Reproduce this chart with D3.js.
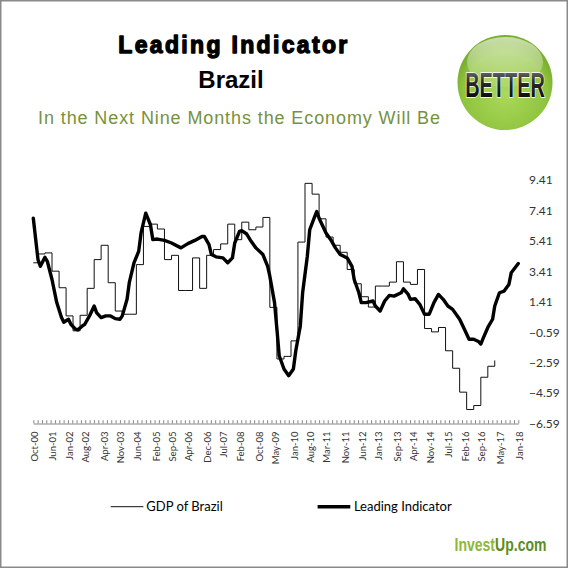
<!DOCTYPE html>
<html>
<head>
<meta charset="utf-8">
<script src="https://cdn.jsdelivr.net/npm/d3@7"></script>
<style>
  body { margin: 0; background: #fff; }
  svg { display: block; }
</style>
</head>
<body>
<div id="chart"></div>
<script>
// GDP of Brazil, quarterly (value holds until the next date)
const gdpDates = [
  "2000-10", "2000-12", "2001-03", "2001-06", "2001-09", "2001-12", "2002-03", "2002-06",
  "2002-09", "2002-12", "2003-03", "2003-06", "2003-09", "2003-12", "2004-03", "2004-06",
  "2004-09", "2004-12", "2005-03", "2005-06", "2005-09", "2005-12", "2006-03", "2006-06",
  "2006-09", "2006-12", "2007-03", "2007-06", "2007-09", "2007-12", "2008-03", "2008-06",
  "2008-09", "2008-12", "2009-03", "2009-06", "2009-09", "2009-12", "2010-03", "2010-06",
  "2010-09", "2010-12", "2011-03", "2011-06", "2011-09", "2011-12", "2012-03", "2012-06",
  "2012-09", "2012-12", "2013-03", "2013-06", "2013-09", "2013-12", "2014-03", "2014-06",
  "2014-09", "2014-12", "2015-03", "2015-06", "2015-09", "2015-12", "2016-03", "2016-06",
  "2016-09", "2016-12", "2017-03"
];
const gdpValues = [
  3.97, 4.55, 4.62, 3.42, 2.33, 0.48, -0.50, 0.52,
  2.29, 4.18, 5.12, 2.66, 0.80, 0.59, 0.59, 3.85,
  6.36, 6.51, 6.19, 4.18, 4.46, 2.15, 2.15, 4.29,
  2.29, 4.46, 4.84, 5.21, 6.51, 5.49, 6.64, 6.14,
  6.32, 6.95, 1.04, -2.35, -2.18, -1.16, 5.33, 9.19,
  8.48, 6.86, 5.66, 5.12, 4.66, 3.53, 2.59, 1.74,
  1.06, 2.44, 2.44, 2.70, 4.04, 2.70, 2.55, 3.53,
  -0.35, -0.57, -0.28, -1.81, -2.96, -4.53, -5.67, -5.41,
  -3.55, -2.83, -2.45
];

// Leading indicator
const liDates = [
  "2000-10", "2000-12", "2001-01", "2001-03", "2001-04", "2001-06", "2001-08", "2001-10",
  "2001-11", "2002-01", "2002-02", "2002-04", "2002-05", "2002-07", "2002-08", "2002-10",
  "2002-12", "2003-01", "2003-03", "2003-05", "2003-07", "2003-09", "2003-11", "2003-12",
  "2004-02", "2004-03", "2004-05", "2004-07", "2004-08", "2004-10", "2004-12", "2005-01",
  "2005-03", "2005-06", "2005-09", "2006-01", "2006-04", "2006-07", "2006-10", "2006-11",
  "2007-01", "2007-02", "2007-04", "2007-07", "2007-09", "2007-11", "2007-12", "2008-02",
  "2008-03", "2008-05", "2008-07", "2008-09", "2008-12", "2009-02", "2009-03", "2009-05",
  "2009-06", "2009-07", "2009-09", "2009-11", "2010-01", "2010-02", "2010-04", "2010-05",
  "2010-07", "2010-08", "2010-10", "2010-11", "2010-12", "2011-03", "2011-05", "2011-07",
  "2011-09", "2011-12", "2012-02", "2012-03", "2012-05", "2012-06", "2012-08", "2012-11",
  "2012-12", "2013-02", "2013-04", "2013-06", "2013-08", "2013-11", "2013-12", "2014-02",
  "2014-03", "2014-05", "2014-07", "2014-09", "2014-11", "2015-01", "2015-03", "2015-05",
  "2015-07", "2015-09", "2015-12", "2016-02", "2016-04", "2016-06", "2016-08", "2016-09",
  "2016-10", "2016-12", "2017-02", "2017-03", "2017-05", "2017-07", "2017-09", "2017-10",
  "2018-01"
];
const liValues = [
  6.90, 4.18, 3.74, 4.33, 4.07, 2.87, 1.37, 0.39,
  0.06, 0.26, -0.07, -0.39, -0.44, -0.18, -0.07, 0.48,
  1.13, 0.70, 0.37, 0.48, 0.48, 0.30, 0.26, 0.48,
  1.57, 2.66, 3.97, 4.72, 5.93, 7.23, 6.47, 5.49,
  5.53, 5.44, 5.27, 4.95, 5.23, 5.44, 5.70, 5.70,
  5.16, 4.51, 4.36, 4.29, 3.97, 4.29, 5.27, 6.03,
  6.08, 5.88, 5.38, 4.95, 4.51, 3.74, 3.09, 1.35,
  -0.39, -2.14, -3.01, -3.45, -3.01, -1.81, -0.18, 2.00,
  4.40, 6.14, 6.95, 7.34, 6.90, 5.93, 5.49, 4.95,
  4.51, 4.29, 3.74, 2.87, 2.00, 1.35, 1.35, 1.46,
  1.13, 0.80, 1.46, 1.83, 1.78, 2.00, 2.26, 1.89,
  1.57, 1.61, 1.24, 0.59, 0.59, 1.35, 1.89, 1.57,
  1.13, 0.91, 0.26, -0.39, -1.05, -1.05, -1.20, -1.37,
  -1.00, -0.28, 0.26, 1.13, 2.00, 2.11, 2.55, 3.31,
  3.92
];

const xTickLabels = [
  "Oct-00", "Jun-01", "Jan-02", "Aug-02", "Apr-03", "Nov-03", "Jun-04", "Feb-05",
  "Sep-05", "Apr-06", "Dec-06", "Jul-07", "Feb-08", "Oct-08", "May-09", "Jan-10",
  "Aug-10", "Mar-11", "Nov-11", "Jun-12", "Jan-13", "Sep-13", "Apr-14", "Nov-14",
  "Jul-15", "Feb-16", "Sep-16", "May-17", "Jan-18"
];
const yTicks = [9.41, 7.41, 5.41, 3.41, 1.41, -0.59, -2.59, -4.59, -6.59];

const parseMonth = d3.timeParse("%Y-%m");
const parseLabel = d3.timeParse("%b-%y");

const gdp = gdpDates.map((d, i) => ({ date: parseMonth(d), value: gdpValues[i] }));
const li = liDates.map((d, i) => ({ date: parseMonth(d), value: liValues[i] }));
const labelDates = xTickLabels.map(parseLabel);

const width = 569;
const height = 569;

const svg = d3.select("#chart")
  .append("svg")
  .attr("width", width)
  .attr("height", height)
  .attr("viewBox", [0, 0, width, height]);

svg.append("rect")
  .attr("x", 0.75).attr("y", 0.75)
  .attr("width", width - 2.5).attr("height", height - 2.5)
  .attr("fill", "#fff")
  .attr("stroke", "#8a8a8a")
  .attr("stroke-width", 1.5);

// titles
svg.append("text")
  .attr("x", 232.8).attr("y", 53.3)
  .attr("text-anchor", "middle")
  .attr("font-family", "Liberation Sans, Arial, sans-serif")
  .attr("font-weight", "bold")
  .attr("font-size", 23)
  .attr("textLength", 229)
  .attr("lengthAdjust", "spacing")
  .attr("stroke", "#000").attr("stroke-width", 1.3)
  .attr("stroke-linejoin", "round")
  .text("Leading Indicator");

svg.append("text")
  .attr("x", 231).attr("y", 88.3)
  .attr("text-anchor", "middle")
  .attr("font-family", "Liberation Sans, Arial, sans-serif")
  .attr("font-weight", "bold")
  .attr("font-size", 24)
  .text("Brazil");

svg.append("text")
  .attr("x", 239).attr("y", 124.3)
  .attr("text-anchor", "middle")
  .attr("font-family", "Liberation Sans, Arial, sans-serif")
  .attr("font-size", 18)
  .attr("fill", "#76923c")
  .attr("textLength", 402)
  .attr("lengthAdjust", "spacing")
  .text("In the Next Nine Months the Economy Will Be");

// BETTER badge
const defs = svg.append("defs");
const ball = defs.append("radialGradient").attr("id", "ball")
  .attr("cx", "50%").attr("cy", "62%").attr("r", "55%");
ball.append("stop").attr("offset", "0%").attr("stop-color", "#acd85a");
ball.append("stop").attr("offset", "80%").attr("stop-color", "#8fc43f");
ball.append("stop").attr("offset", "100%").attr("stop-color", "#7aae2e");

const gloss = defs.append("linearGradient").attr("id", "gloss")
  .attr("x1", 0).attr("y1", 0).attr("x2", 0).attr("y2", 1);
gloss.append("stop").attr("offset", "0%").attr("stop-color", "#fff").attr("stop-opacity", 0.6);
gloss.append("stop").attr("offset", "100%").attr("stop-color", "#fff").attr("stop-opacity", 0.08);

const ink = defs.append("linearGradient").attr("id", "ink")
  .attr("x1", 0).attr("y1", 0).attr("x2", 0).attr("y2", 1);
ink.append("stop").attr("offset", "0%").attr("stop-color", "#8c8c8c");
ink.append("stop").attr("offset", "45%").attr("stop-color", "#2a2a2a");
ink.append("stop").attr("offset", "100%").attr("stop-color", "#000");

const badge = svg.append("g");
badge.append("circle")
  .attr("cx", 505).attr("cy", 82.5).attr("r", 47.5)
  .attr("fill", "url(#ball)");
badge.append("ellipse")
  .attr("cx", 505).attr("cy", 62).attr("rx", 38).attr("ry", 25)
  .attr("fill", "url(#gloss)");
badge.append("text")
  .attr("transform", "translate(505,96.7) scale(0.57,1)")
  .attr("text-anchor", "middle")
  .attr("font-family", "Liberation Sans, Arial, sans-serif")
  .attr("font-weight", "bold")
  .attr("font-size", 35)
  .attr("fill", "url(#ink)")
  .attr("stroke", "#fff").attr("stroke-width", 1.6)
  .attr("paint-order", "stroke")
  .text("BETTER");

// scales
const x = d3.scaleTime()
  .domain([parseMonth("2000-10"), parseMonth("2018-01")])
  .range([33.3, 518.3]);

const y = d3.scaleLinear()
  .domain([-6.59, 9.41])
  .range([423.5, 180]);

// x axis: line, small inward ticks, rotated labels
const axisY = y(-6.59);

const tickIndex = d3.scaleLinear().domain([0, 112]).range(x.range());
svg.append("g")
  .attr("transform", `translate(0,${axisY})`)
  .call(d3.axisBottom(tickIndex).tickValues(d3.range(113)).tickSize(-3.3).tickSizeOuter(0).tickFormat(""))
  .call(g => g.select(".domain").attr("stroke", "#868686"))
  .call(g => g.selectAll(".tick line").attr("stroke", "#868686"));

svg.append("g")
  .attr("transform", `translate(0,${axisY})`)
  .call(d3.axisBottom(x).tickValues(labelDates).tickSize(0).tickFormat(d3.timeFormat("%b-%y")))
  .call(g => g.select(".domain").remove())
  .call(g => g.selectAll("text")
    .attr("transform", "rotate(-90)")
    .attr("text-anchor", "end")
    .attr("x", -8)
    .attr("y", 0)
    .attr("dy", "0.4em")
    .attr("fill", "#333")
    .attr("font-family", "Lato, sans-serif")
    .attr("font-size", 9.5));

// y axis on the right, labels only
svg.append("g")
  .attr("transform", "translate(529,0)")
  .call(d3.axisRight(y).tickValues(yTicks).tickSize(0).tickPadding(0).tickFormat(d3.format(".2f")))
  .call(g => g.select(".domain").remove())
  .call(g => g.selectAll("text")
    .attr("fill", "#333")
    .attr("font-family", "Lato, sans-serif")
    .attr("font-size", 12));

// series
const gdpLine = d3.line()
  .x(d => x(d.date))
  .y(d => y(d.value))
  .curve(d3.curveStepAfter);

const liLine = d3.line()
  .x(d => x(d.date))
  .y(d => y(d.value));

svg.append("path")
  .datum(gdp)
  .attr("fill", "none")
  .attr("stroke", "#111")
  .attr("stroke-width", 1)
  .attr("d", gdpLine);

svg.append("path")
  .datum(li)
  .attr("fill", "none")
  .attr("stroke", "#000")
  .attr("stroke-width", 3.4)
  .attr("stroke-linejoin", "round")
  .attr("stroke-linecap", "round")
  .attr("d", liLine);

// legend
const legend = svg.append("g")
  .attr("font-family", "Lato, sans-serif")
  .attr("font-size", 13);

legend.append("line")
  .attr("x1", 110.7).attr("x2", 143.4).attr("y1", 506.7).attr("y2", 506.7)
  .attr("stroke", "#111").attr("stroke-width", 1);
legend.append("text").attr("x", 146.3).attr("y", 511).text("GDP of Brazil");

legend.append("line")
  .attr("x1", 317.6).attr("x2", 350.3).attr("y1", 506.7).attr("y2", 506.7)
  .attr("stroke", "#000").attr("stroke-width", 3.4);
legend.append("text").attr("x", 353.9).attr("y", 511).text("Leading Indicator");

// footer
const brand = svg.append("text")
  .attr("transform", "translate(454.5,551) scale(0.78,1)")
  .attr("font-family", "Liberation Sans, Arial, sans-serif")
  .attr("font-weight", "bold")
  .attr("font-size", 18);
brand.append("tspan").attr("fill", "#8db83b").text("Invest");
brand.append("tspan").attr("fill", "#5d8c22").text("Up.com");
</script>
</body>
</html>
